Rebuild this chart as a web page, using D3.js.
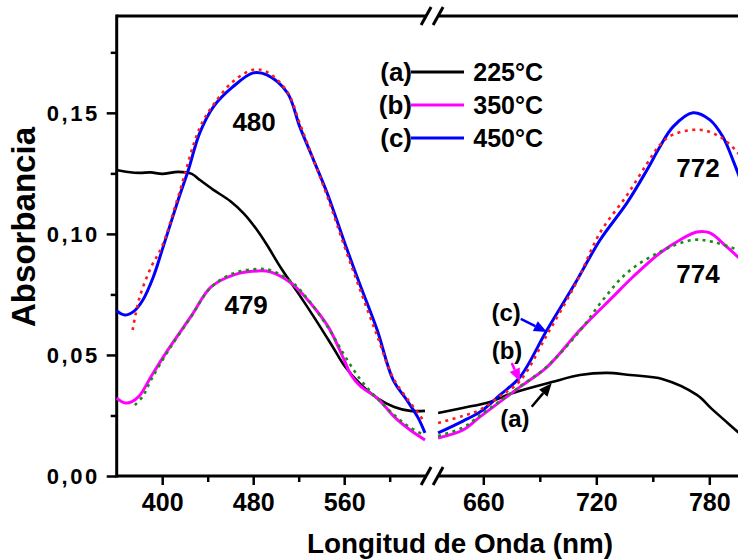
<!DOCTYPE html>
<html>
<head>
<meta charset="utf-8">
<script src="https://cdn.jsdelivr.net/npm/d3@7"></script>
<style>
  html, body { margin: 0; padding: 0; background: #fff; }
  svg { display: block; }
  text { font-family: "Liberation Sans", Arial, sans-serif; font-weight: bold; fill: #000; }
</style>
</head>
<body>
<svg id="chart" width="738" height="560"></svg>
<script>
// Absorption spectra: wavelength (nm) and absorbance for each sample
const nmA  = [360,370,380,390,400,414,426,433,445,460,472,484,492,505,521,535,550,561,575,589,604,618,631,
              636,649,663.5,675.7,696.4,711.3,725.6,737.9,755.4,773.4,781.9,795.2,800];
const absA = [0.1264,0.1256,0.1252,0.1254,0.1248,0.1256,0.1248,0.1223,0.1182,0.1135,0.1083,0.1012,0.0955,0.0855,0.0745,0.0645,0.0533,0.0450,0.0376,0.0322,0.0285,0.0269,0.0269,
              0.0260,0.0281,0.0306,0.0343,0.0388,0.0417,0.0426,0.0417,0.0400,0.0335,0.0273,0.0182,0.0149];

const nmB  = [360,367,373,380,390,405,425,443,463,484,495,513,528,546,560,566,574,589,605,618,631,
              636,649.2,658.2,679.5,693.8,711.3,728.8,739.4,753.8,764.4,773.4,780.3,789.3,795.2,800];
const absB = [0.0322,0.0302,0.0306,0.0331,0.0409,0.0521,0.0657,0.0781,0.0831,0.0847,0.0843,0.0798,0.0727,0.0616,0.0479,0.0417,0.0372,0.0322,0.0240,0.0190,0.0149,
              0.0157,0.0190,0.0244,0.0368,0.0450,0.0603,0.0740,0.0822,0.0921,0.0975,0.1008,0.1004,0.0946,0.0905,0.0870];

const nmC  = [360,367,375,383,392,400,414,423,433,445,462,480,492,510,521,533,545,561,574,589,603,615,625,631,
              636,649.2,658.2,668.9,679.5,693.8,709.8,722,736.3,746.9,753.8,760.7,771.3,780.3,787.2,792.5,795.2,800];
const absC = [0.0682,0.0665,0.0680,0.0727,0.0820,0.0934,0.1140,0.1264,0.1417,0.1525,0.1607,0.1665,0.1657,0.1583,0.1442,0.1306,0.1169,0.0955,0.0789,0.0603,0.0397,0.0314,0.0240,0.0178,
              0.0178,0.0227,0.0264,0.0335,0.0409,0.0603,0.0810,0.0975,0.1128,0.1264,0.1360,0.1442,0.1500,0.1471,0.1401,0.1306,0.1252,0.1150];

// Fitted curves (dotted)
const nmFitB  = [376,383,390,405,425,443,463,484,495,513,528,546,560,574,589,605,618,630,
                 636,649.2,658.2,679.5,693.8,711.3,723.5,736.3,753.8,771.3,781.9,795.2,800];
const absFitB = [0.0293,0.0330,0.0395,0.0515,0.0655,0.0780,0.0838,0.0855,0.0850,0.0805,0.0730,0.0612,0.0500,0.0400,0.0320,0.0248,0.0200,0.0170,
                 0.0165,0.0200,0.0250,0.0370,0.0452,0.0600,0.0727,0.0839,0.0926,0.0975,0.0967,0.0934,0.0920];

const nmFitC  = [374,380,390,400,414,433,445,462,480,492,510,521,533,545,561,574,589,603,615,625,631,
                 636,649.2,658.2,668.9,679.5,693.8,709.8,722,736.3,746.9,753.8,760.7,775,785.7,794.7,800];
const absFitC = [0.0603,0.0736,0.0860,0.0950,0.1153,0.1438,0.1533,0.1628,0.1678,0.1669,0.1587,0.1455,0.1306,0.1157,0.0938,0.0769,0.0579,0.0405,0.0322,0.0260,0.0219,
                 0.0219,0.0248,0.0273,0.0330,0.0393,0.0583,0.0805,0.1005,0.1160,0.1290,0.1368,0.1410,0.1430,0.1401,0.1339,0.1280];

// Axis ticks
const xTicksLeft  = [400, 480, 560];
const xMinorLeft  = [440, 520, 600];
const xTicksRight = [660, 720, 780];
const xMinorRight = [690, 750];
const yTicks = [0, 0.05, 0.10, 0.15];
const yMinor = [0.025, 0.075, 0.125, 0.175];

// Legend entries and peak labels
const legendTags   = ["(a)", "(b)", "(c)"];
const legendTemps  = ["225°C", "350°C", "450°C"];
const seriesColors = ["#000000", "#ff00ff", "#0000ff"];
const peakText = ["480", "479", "772", "774"];
const peakNm   = [480.8, 473.8, 774, 774];
const peakAbs  = [0.1426, 0.0669, 0.1236, 0.0798];

// Arrow annotations pointing at the curves
const arrowTags = ["(c)", "(b)", "(a)"];
const arrowLabelNm  = [672.1, 672.6, 676.8];
const arrowLabelAbs = [0.0674, 0.0517, 0.0240];
const arrowTailNm   = [679.9, 675.1, 685.7];
const arrowTailAbs  = [0.0649, 0.0467, 0.0286];
const arrowTipNm    = [693.8, 679.5, 696.3];
const arrowTipAbs   = [0.0595, 0.0390, 0.0383];

const svg = d3.select("#chart");
const plotLeft = 116.7, plotTop = 16, plotBottom = 476;
const breakNm = 633;

const xL = d3.scaleLinear().domain([360, 632]).range([plotLeft, plotLeft + 272 * 1.1375]);
const xR = d3.scaleLinear().domain([636, 800]).range([483.3 - 24 * 1.8833, 483.3 + 140 * 1.8833]);
const y  = d3.scaleLinear().domain([0, 0.19]).range([plotBottom, plotTop]);
const xPos = nm => nm < breakNm ? xL(nm) : xR(nm);

svg.append("rect").attr("width", 738).attr("height", 560).attr("fill", "#fff");

// ---- axes ----
const gx = svg.append("g");
const fmtX = d3.format("d");
function drawXAxis(scale, major, minor) {
  const a = gx.append("g").attr("transform", `translate(0,${plotBottom})`)
    .call(d3.axisBottom(scale).tickValues(major).tickSize(9).tickSizeOuter(0).tickFormat(fmtX));
  a.select(".domain").remove();
  a.selectAll("line").attr("stroke", "#000").attr("stroke-width", 2.5);
  a.selectAll("text").attr("font-size", 25).attr("dy", 0).attr("y", 35)
    .attr("font-family", "Liberation Sans, Arial, sans-serif").attr("font-weight", "bold").attr("fill", "#000");
  const m = gx.append("g").attr("transform", `translate(0,${plotBottom})`)
    .call(d3.axisBottom(scale).tickValues(minor).tickSize(6).tickSizeOuter(0).tickFormat(""));
  m.select(".domain").remove();
  m.selectAll("line").attr("stroke", "#000").attr("stroke-width", 2.5);
}
drawXAxis(xL, xTicksLeft, xMinorLeft);
drawXAxis(xR, xTicksRight, xMinorRight);

const fmtY = v => d3.format(".2f")(v).replace(".", ",");
const gy = svg.append("g").attr("transform", `translate(${plotLeft},0)`)
  .call(d3.axisLeft(y).tickValues(yTicks).tickSize(10).tickSizeOuter(0).tickFormat(fmtY));
gy.select(".domain").remove();
gy.selectAll("line").attr("stroke", "#000").attr("stroke-width", 2.5);
gy.selectAll("text").attr("font-size", 22).attr("x", -17).attr("dy", "0.36em")
  .attr("letter-spacing", 2.5)
  .attr("font-family", "Liberation Sans, Arial, sans-serif").attr("font-weight", "bold").attr("fill", "#000");
const gym = svg.append("g").attr("transform", `translate(${plotLeft},0)`)
  .call(d3.axisLeft(y).tickValues(yMinor).tickSize(6).tickSizeOuter(0).tickFormat(""));
gym.select(".domain").remove();
gym.selectAll("line").attr("stroke", "#000").attr("stroke-width", 2.5);

// axis lines with a break
const gapL = xL.range()[1], gapR = xR.range()[0];
const frame = svg.append("g").attr("stroke", "#000").attr("stroke-width", 3).attr("fill", "none");
frame.append("line").attr("x1", plotLeft).attr("x2", plotLeft).attr("y1", plotTop - 1.5).attr("y2", plotBottom + 1.5);
[plotBottom, plotTop].forEach(yy => {
  frame.append("line").attr("x1", plotLeft).attr("x2", gapL).attr("y1", yy).attr("y2", yy);
  frame.append("line").attr("x1", gapR).attr("x2", 738).attr("y1", yy).attr("y2", yy);
  [gapL, gapR].forEach(xx => {
    frame.append("line").attr("x1", xx - 5).attr("y1", yy + 9).attr("x2", xx + 5).attr("y2", yy - 9);
  });
});

// ---- curves ----
const line = d3.line().x(d => xPos(d[0])).y(d => y(d[1])).curve(d3.curveCatmullRom.alpha(0.5));
function drawSeries(nms, abs, color, width, dash) {
  const pts = nms.map((n, i) => [n, abs[i]]);
  const parts = [pts.filter(p => p[0] < breakNm), pts.filter(p => p[0] >= breakNm)];
  parts.forEach(seg => {
    svg.append("path").datum(seg).attr("d", line)
      .attr("fill", "none").attr("stroke", color).attr("stroke-width", width)
      .attr("stroke-dasharray", dash || null).attr("stroke-linejoin", "round");
  });
}
drawSeries(nmA, absA, seriesColors[0], 2.6);
drawSeries(nmB, absB, seriesColors[1], 3);
drawSeries(nmFitB, absFitB, "#1a8a1a", 2.6, "3,4.5");
drawSeries(nmC, absC, seriesColors[2], 3);
drawSeries(nmFitC, absFitC, "#ff1a1a", 2.6, "3,4.5");

// ---- peak labels ----
peakText.forEach((t, i) => {
  svg.append("text").attr("x", xPos(peakNm[i])).attr("y", y(peakAbs[i]))
    .attr("text-anchor", "middle").attr("font-size", 26).text(t);
});

// ---- arrows ----
const arrowColors = [seriesColors[2], seriesColors[1], seriesColors[0]];
arrowTags.forEach((t, i) => {
  const x0 = xPos(arrowTailNm[i]), y0 = y(arrowTailAbs[i]);
  const x1 = xPos(arrowTipNm[i]),  y1 = y(arrowTipAbs[i]);
  const ang = Math.atan2(y1 - y0, x1 - x0);
  const hl = 13, hw = 5.5;
  const bx = x1 - hl * Math.cos(ang), by = y1 - hl * Math.sin(ang);
  svg.append("line").attr("x1", x0).attr("y1", y0).attr("x2", bx).attr("y2", by)
    .attr("stroke", arrowColors[i]).attr("stroke-width", 2.5);
  svg.append("path")
    .attr("d", `M${x1},${y1}L${bx + hw * Math.sin(ang)},${by - hw * Math.cos(ang)}L${bx - hw * Math.sin(ang)},${by + hw * Math.cos(ang)}Z`)
    .attr("fill", arrowColors[i]);
  svg.append("text").attr("x", xPos(arrowLabelNm[i])).attr("y", y(arrowLabelAbs[i]))
    .attr("dy", "0.36em").attr("text-anchor", "middle").attr("font-size", 24).text(t);
});

// ---- legend ----
const lg = svg.append("g");
legendTags.forEach((t, i) => {
  const cy = 72 + i * 33;
  lg.append("text").attr("x", 412).attr("y", cy + 9).attr("text-anchor", "end").attr("font-size", 26).text(t);
  lg.append("line").attr("x1", 411).attr("x2", 464).attr("y1", cy).attr("y2", cy)
    .attr("stroke", seriesColors[i]).attr("stroke-width", 3);
  lg.append("text").attr("x", 543).attr("y", cy + 9).attr("text-anchor", "end").attr("font-size", 25).text(legendTemps[i]);
});

// ---- axis titles ----
svg.append("text").attr("x", 460).attr("y", 553).attr("text-anchor", "middle")
  .attr("font-size", 28).attr("textLength", 306).attr("lengthAdjust", "spacingAndGlyphs")
  .text("Longitud de Onda (nm)");
svg.append("text").attr("transform", "translate(35,227) rotate(-90)").attr("text-anchor", "middle")
  .attr("font-size", 33).attr("textLength", 200).attr("lengthAdjust", "spacingAndGlyphs")
  .text("Absorbancia");
</script>
</body>
</html>
